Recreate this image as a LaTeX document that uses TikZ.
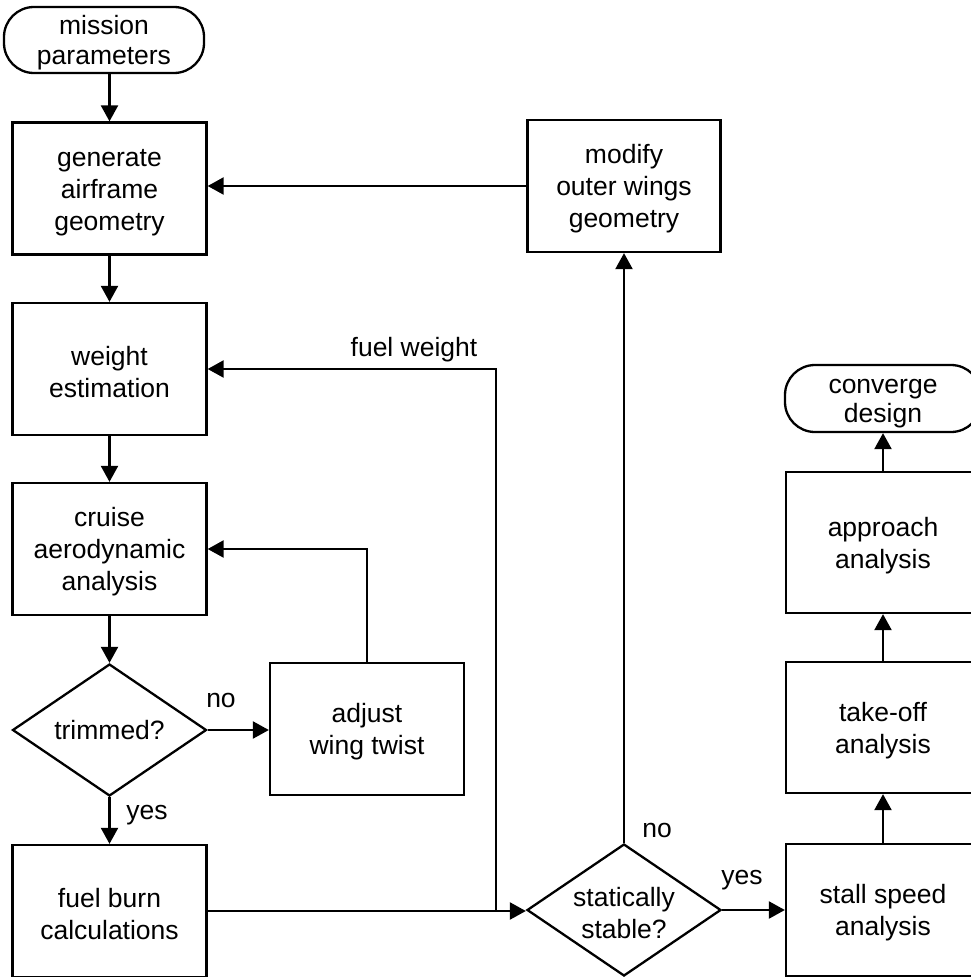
\documentclass[tikz,border=0pt]{standalone}
\usepackage{fontspec}
\setmainfont{Liberation Sans}
\usetikzlibrary{arrows.meta,shapes.geometric,calc}
\newcommand{\tp}{\rule{0pt}{25pt}}
\begin{document}
\begin{tikzpicture}[x=1pt,y=-1pt,
  every node/.style={font=\fontsize{26.5}{32}\selectfont, align=center, inner sep=0pt},
  box/.style={draw, line width=2.3pt, rectangle, minimum width=194pt, minimum height=132pt},
  term/.style={draw, line width=2.3pt, rectangle, rounded corners=30pt, minimum width=200pt, minimum height=66pt},
  dec/.style={draw, line width=2.3pt, diamond, aspect=1.47, minimum width=194pt, minimum height=132pt},
  arr/.style={line width=2.3pt, -{Triangle[length=16pt,width=17pt]}},
  lbl/.style={inner sep=0pt}]
\useasboundingbox (0,0) rectangle (971,977);
\clip (0,0) rectangle (971,977);
\node[term, font=\fontsize{26.5}{30}\selectfont] (mission) at (104,40) {\tp mission\\parameters};
\node[box] (gen) at (109.5,188.5) {\tp generate\\airframe\\geometry};
\node[box, minimum width=193pt] (modify) at (624,186) {\tp modify\\outer wings\\geometry};
\node[box] (weight) at (109.5,369) {\tp weight\\estimation};
\node[box] (cruise) at (109.5,549) {\tp cruise\\aerodynamic\\analysis};
\node[dec] (trim) at (109.5,730) {trimmed?};
\node[box] (adjust) at (367,729) {\tp adjust\\wing twist};
\node[box] (fuel) at (109.5,911) {\tp fuel burn\\calculations};
\node[dec] (stable) at (624,910) {\tp statically\\stable?};
\node[box] (stall) at (883,910) {\tp stall speed\\analysis};
\node[box, minimum height=131pt] (takeoff) at (883,727.5) {\tp take-off\\analysis};
\node[box, minimum height=141pt] (approach) at (883,542.5) {\tp approach\\analysis};
\node[term, minimum width=196pt, minimum height=67pt, font=\fontsize{26.5}{29}\selectfont] (conv) at (883,398.5) {\tp converge\\design};

\node[lbl] (lno1) at (221,700) {no};
\node[lbl] (lyes1) at (147,815) {yes};
\node[lbl] (lfw) at (414,350) {fuel weight};
\node[lbl] (lno2) at (657,830) {no};
\node[lbl] (lyes2) at (742,880) {yes};

\coordinate (j) at (496,911);

\draw[arr] (mission.south -| gen.north) -- (gen.north);
\draw[arr] (gen) -- (weight);
\draw[arr] (weight) -- (cruise);
\draw[arr] (cruise) -- (trim.north);
\draw[arr] (trim.east) -- (adjust.west |- trim.east);
\draw[arr] (trim.south) -- (fuel.north);
\draw[arr] (adjust.north) |- (cruise.east);
\draw[arr] (fuel.east) -- (stable.west |- fuel.east);
\draw[arr] (j) |- (weight.east);
\draw[arr] (stable.north) -- (modify.south);
\draw[arr] (modify.west) -- (gen.east |- modify.west);
\draw[arr] (stable.east) -- (stall.west);
\draw[arr] (stall) -- (takeoff);
\draw[arr] (takeoff) -- (approach);
\draw[arr] (approach) -- (conv);
\end{tikzpicture}
\end{document}
